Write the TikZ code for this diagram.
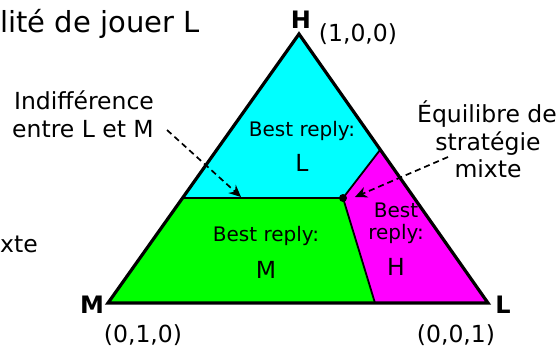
\documentclass[tikz,border=0pt]{standalone}
\usepackage{fontspec}
\setmainfont{DejaVu Sans}
\usetikzlibrary{arrows.meta}
\definecolor{cy}{RGB}{0,255,255}
\definecolor{gr}{RGB}{0,255,0}
\definecolor{mg}{RGB}{255,0,255}
\tikzset{
  lbl/.style={inner sep=0pt, font=\fontsize{23.5}{26}\selectfont},
  big/.style={inner sep=0pt, font=\fontsize{29}{32}\selectfont},
  small/.style={inner sep=0pt, font=\fontsize{20}{22}\selectfont},
  vert/.style={inner sep=0pt, font=\fontsize{24}{26}\selectfont\bfseries},
  edge/.style={line width=3.2pt, line join=miter},
  div/.style={line width=1.8pt},
  dasharrow/.style={dashed, dash pattern=on 6pt off 4pt, line width=1.7pt, -{Stealth[length=12pt,width=11pt]}}
}
\begin{document}
\begin{tikzpicture}[x=1pt,y=-1pt]
\useasboundingbox (0,0) rectangle (559,347);
\coordinate (H) at (299,34);
\coordinate (M) at (108,303);
\coordinate (L) at (488,303);
\coordinate (A) at (182.5,198);
\coordinate (D) at (343,198);
\coordinate (B) at (380,150);
\coordinate (C) at (375,303);
\fill[cy] (H) -- (A) -- (D) -- (B) -- cycle;
\fill[gr] (A) -- (M) -- (C) -- (D) -- cycle;
\fill[mg] (D) -- (B) -- (L) -- (C) -- cycle;
\draw[div] (A) -- (D) -- (B);
\draw[div] (D) -- (C);
\draw[edge] (H) -- (M) -- (L) -- cycle;
\fill (D) circle (4pt);
% texts
\node[big, anchor=base west] (top) at (0,33) {lité de jouer L};
\node[vert] (vH) at (301,20) {H};
\node[lbl] (cH) at (358,34) {(1,0,0)};
\node[vert] (vM) at (92,305) {M};
\node[vert] (vL) at (503,305) {L};
\node[lbl] (cM) at (143,335) {(0,1,0)};
\node[lbl] (cL) at (456,335) {(0,0,1)};
\node[lbl, anchor=base] (ind1) at (84,110) {Indifférence};
\node[lbl, anchor=base] (ind2) at (83,138) {entre L et M};
\node[lbl, anchor=base] (eq1) at (487,123) {Équilibre de};
\node[lbl, anchor=base] (eq2) at (488,151) {stratégie};
\node[lbl, anchor=base] (eq3) at (488,178) {mixte};
\node[lbl, anchor=base west] (xte) at (0,252) {xte};
\node[small, anchor=base] (bl1) at (302,137) {Best reply:};
\node[lbl] (bl2) at (302,163) {L};
\node[small, anchor=base] (bm1) at (266,242) {Best reply:};
\node[lbl] (bm2) at (266,270) {M};
\node[small, anchor=base] (bh1) at (396,218) {Best};
\node[small, anchor=base] (bh2) at (396,240) {reply:};
\node[lbl] (bh3) at (396,267) {H};
% arrows
\coordinate (a1s) at (167,130);
\coordinate (a1e) at (241,197);
\coordinate (a2s) at (448,157);
\coordinate (a2e) at (355,197);
\draw[dasharrow] (a1s) -- (a1e);
\draw[dasharrow] (a2s) -- (a2e);
\end{tikzpicture}
\end{document}
